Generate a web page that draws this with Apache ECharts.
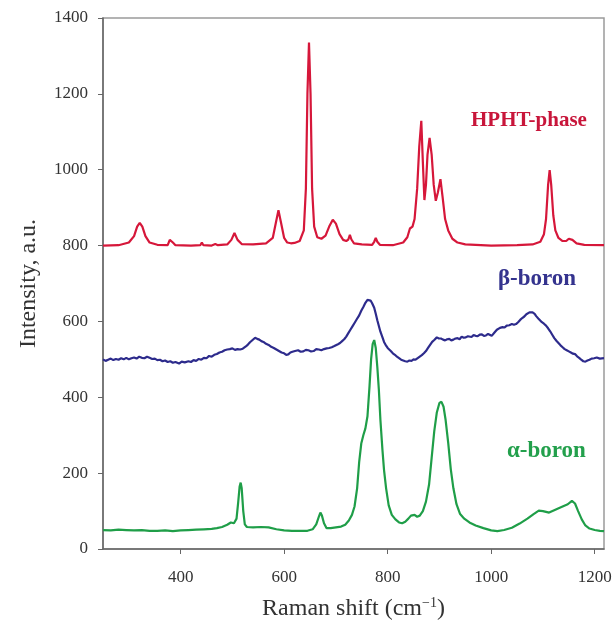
<!DOCTYPE html>
<html>
<head>
<meta charset="utf-8">
<script src="https://cdn.jsdelivr.net/npm/echarts@6/dist/echarts.min.js"></script>
<style>
  html, body { margin: 0; padding: 0; background: #fff; }
  #chart { width: 616px; height: 630px; }
</style>
</head>
<body>
<div id="chart"></div>
<script>
// Raman spectra, values: [shift cm-1, intensity]
var hphtPhase = [
    [250,800],[280,801],[300,808],[310,825],[316,850],[321,860],[326,850],[332,825],[340,808],[355,802],
    [375,801],[379,815],[382,812],[385,808],[390,801],[420,800],[438,801],[441,808],[444,801],[460,800],
    [467,804],[472,801],[490,803],[498,815],[504,833],[510,815],[518,804],[540,803],[565,806],[578,820],
    [584,860],[589,893],[594,860],[600,820],[606,808],[613,806],[620,807],[630,812],[638,840],[642,950],
    [645,1200],[648,1335],[651,1200],[654,950],[658,850],[664,822],[672,818],[680,826],[687,850],[694,868],
    [700,858],[707,830],[714,815],[720,812],[724,816],[727,828],[730,816],[735,806],[750,803],[770,802],
    [774,810],[777,820],[780,810],[785,802],[810,801],[830,808],[838,822],[843,845],[848,850],[852,870],
    [857,950],[861,1060],[865,1129],[868,1020],[871,920],[874,960],[877,1040],[881,1084],[885,1040],[889,960],
    [893,918],[897,940],[902,975],[906,930],[911,870],[917,840],[925,818],[935,808],[950,803],[1000,800],
    [1050,801],[1080,803],[1095,810],[1102,830],[1106,870],[1110,960],[1113,999],[1116,960],[1120,880],[1124,840],
    [1130,820],[1138,812],[1145,812],[1150,818],[1153,822],[1157,815],[1165,806],[1180,802],[1218,801]
];
var betaBoron = [
    [250,500],[255,496],[260,499],[265,502],[270,498],[275,501],[280,499],[285,503],[290,500],[295,504],
    [300,500],[305,503],[310,505],[315,502],[320,507],[325,504],[330,503],[335,507],[340,504],[345,501],
    [350,502],[355,498],[360,499],[365,495],[370,497],[375,493],[380,495],[385,491],[390,493],[397,489],
    [402,494],[408,492],[415,495],[420,493],[425,498],[430,496],[435,501],[440,499],[445,504],[450,503],
    [455,509],[460,507],[465,512],[470,514],[475,518],[480,520],[485,524],[490,526],[495,527],[500,529],
    [505,525],[510,527],[515,526],[520,528],[526,534],[530,539],[534,545],[539,551],[544,557],[548,554],
    [552,552],[556,548],[560,546],[565,541],[570,538],[575,533],[580,530],[585,526],[590,522],[595,518],
    [600,516],[604,512],[608,513],[612,518],[616,520],[621,522],[627,524],[632,520],[637,521],[642,525],
    [647,524],[652,521],[657,522],[662,527],[667,526],[672,524],[677,527],[682,529],[687,530],[692,532],
    [697,535],[700,538],[704,540],[708,543],[712,548],[716,553],[720,560],[724,569],[728,578],[732,587],
    [736,596],[740,605],[745,616],[749,628],[753,638],[757,649],[761,657],[764,660],[767,655],[770,648],
    [774,636],[777,620],[780,603],[783,588],[786,573],[790,558],[793,546],[797,536],[800,530],[803,526],
    [806,522],[810,516],[814,512],[818,507],[822,503],[826,499],[830,497],[834,495],[838,494],[842,497],
    [846,496],[850,500],[854,499],[858,503],[862,507],[866,511],[870,516],[874,522],[878,530],[882,538],
    [886,546],[890,551],[895,558],[899,555],[903,555],[907,552],[911,550],[915,553],[919,554],[923,550],
    [927,552],[931,555],[935,556],[939,553],[943,560],[947,557],[951,558],[955,561],[958,562],[962,559],
    [966,564],[970,562],[974,561],[978,565],[982,566],[986,562],[990,563],[994,567],[997,566],[1001,562],
    [1004,562],[1006,570],[1008,574],[1011,578],[1013,581],[1017,583],[1022,585],[1026,584],[1030,589],[1035,590],
    [1040,593],[1044,591],[1048,593],[1052,598],[1056,604],[1060,609],[1064,613],[1068,619],[1071,622],[1074,624],
    [1077,626],[1080,624],[1084,620],[1087,614],[1091,608],[1094,604],[1098,598],[1102,594],[1106,589],[1110,582],
    [1114,574],[1118,565],[1122,556],[1126,549],[1130,543],[1134,537],[1138,532],[1142,527],[1146,524],[1150,521],
    [1154,518],[1158,515],[1162,514],[1166,508],[1170,504],[1174,499],[1178,495],[1182,494],[1186,497],[1190,499],
    [1194,502],[1199,503],[1204,505],[1210,502],[1218,503]
];
var alphaBoron = [
    [250,50],[265,49],[280,51],[295,50],[310,49],[325,50],[340,48],[355,48],[370,49],[385,47],
    [400,49],[415,50],[430,51],[445,52],[460,53],[470,55],[480,58],[490,64],[497,70],[503,68],
    [508,80],[511,120],[514,165],[516,175],[518,160],[521,100],[524,65],[528,58],[540,57],[555,58],
    [570,57],[585,52],[600,49],[615,48],[630,48],[645,48],[655,52],[662,65],[667,85],[670,96],
    [673,88],[677,68],[682,55],[690,55],[700,57],[710,59],[718,64],[725,75],[731,90],[736,112],
    [741,160],[745,230],[749,278],[753,300],[757,318],[761,350],[765,430],[768,500],[771,540],[774,551],
    [777,530],[780,480],[783,420],[786,340],[790,260],[793,208],[797,160],[802,115],[808,90],[815,78],
    [822,70],[828,68],[834,72],[840,80],[845,88],[848,93],[852,90],[857,85],[862,88],[868,100],
    [874,125],[880,170],[885,240],[890,310],[895,360],[900,385],[904,388],[908,375],[912,340],[917,280],
    [922,210],[927,160],[933,118],[940,92],[948,80],[958,70],[970,62],[985,55],[1000,49],[1012,47],
    [1025,50],[1040,56],[1055,67],[1070,80],[1082,92],[1092,101],[1100,100],[1112,96],[1125,104],[1138,112],
    [1148,118],[1156,127],[1162,120],[1168,100],[1175,78],[1182,62],[1190,54],[1200,50],[1210,48],[1218,47]
];
var xTicks = [400, 600, 800, 1000, 1200];
var yTicks = [0, 200, 400, 600, 800, 1000, 1200, 1400];

var serif = '"Liberation Serif", "DejaVu Serif", serif';

var chart = echarts.init(document.getElementById('chart'));
var option = {
    animation: false,
    backgroundColor: '#fff',
    grid: {
        left: 103, right: 12, top: 18, bottom: 81,
        show: true,
        borderColor: '#9a9a9a',
        borderWidth: 1.5
    },
    xAxis: {
        type: 'value',
        min: 250,
        max: 1218,
        name: '{a|Raman shift (cm}{s|−1}{a|)}',
        nameLocation: 'middle',
        nameGap: 47,
        nameTextStyle: {
            rich: {
                a: { fontFamily: serif, fontSize: 24, color: '#333' },
                s: { fontFamily: serif, fontSize: 14, color: '#333', verticalAlign: 'top', padding: [0, 0, 12, 0] }
            }
        },
        axisLine: { onZero: false, lineStyle: { color: '#666', width: 1.5 } },
        axisTick: { inside: false, length: 5, lineStyle: { color: '#666' }, customValues: xTicks },
        axisLabel: {
            fontFamily: serif, fontSize: 17, color: '#333', margin: 20, customValues: xTicks,
            formatter: function (v) { return String(v); }
        },
        splitLine: { show: false }
    },
    yAxis: {
        type: 'value',
        min: 0,
        max: 1400,
        interval: 200,
        name: 'Intensity, a.u.',
        nameLocation: 'middle',
        nameGap: 62,
        nameTextStyle: { fontFamily: serif, fontSize: 24, color: '#333' },
        axisLine: { lineStyle: { color: '#666', width: 1.5 } },
        axisTick: { inside: false, length: 5, lineStyle: { color: '#666' }, customValues: yTicks },
        axisLabel: {
            fontFamily: serif, fontSize: 17, color: '#333', margin: 15, customValues: yTicks,
            formatter: function (v) { return String(v); }
        },
        splitLine: { show: false }
    },
    series: [
        {
            name: 'HPHT-phase', type: 'line', data: hphtPhase, showSymbol: false,
            lineStyle: { color: '#d6173a', width: 2.2 }
        },
        {
            name: 'β-boron', type: 'line', data: betaBoron, showSymbol: false,
            lineStyle: { color: '#2d2b8c', width: 2.2 }
        },
        {
            name: 'α-boron', type: 'line', data: alphaBoron, showSymbol: false,
            lineStyle: { color: '#1f9e48', width: 2.2 }
        }
    ],
    graphic: [
        { type: 'text', left: 471, top: 110, style: { text: 'HPHT-phase', fill: '#c8153a', font: 'bold 21px ' + serif } },
        { type: 'text', left: 498, top: 268, style: { text: 'β-boron', fill: '#34338e', font: 'bold 23px ' + serif } },
        { type: 'text', left: 507, top: 440, style: { text: 'α-boron', fill: '#23a04c', font: 'bold 23px ' + serif } }
    ]
};
chart.setOption(option);
</script>
</body>
</html>
